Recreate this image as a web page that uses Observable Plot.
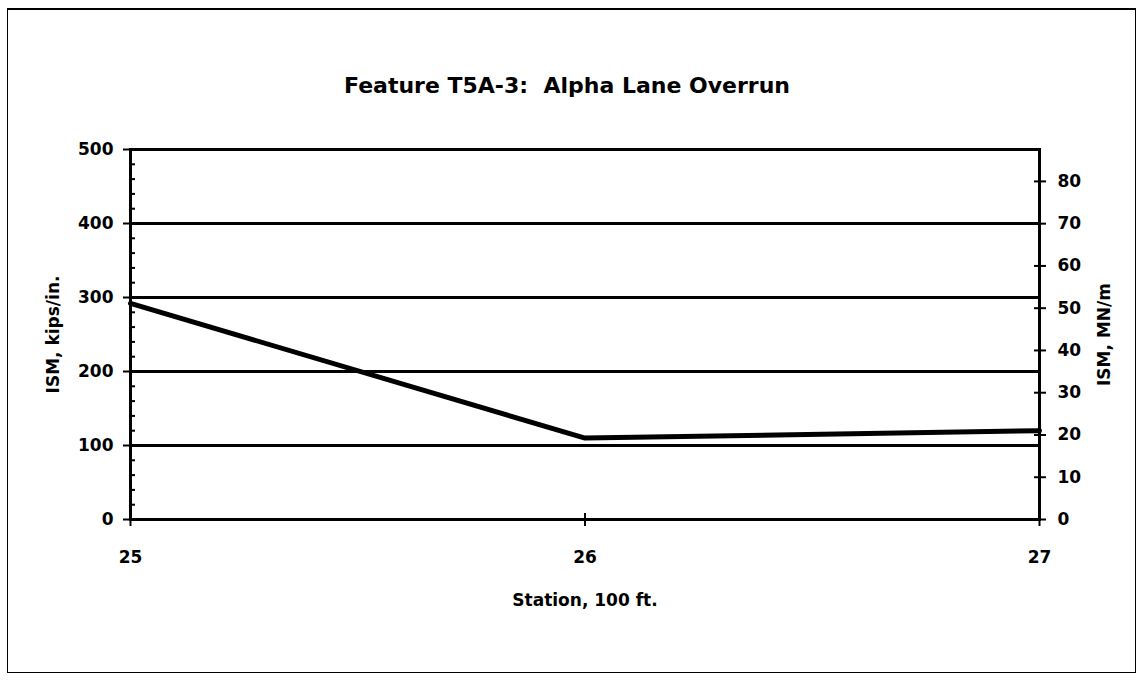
<!DOCTYPE html>
<html>
<head>
<meta charset="utf-8">
<script src="https://cdn.jsdelivr.net/npm/d3@7"></script>
<script src="https://cdn.jsdelivr.net/npm/@observablehq/plot@0.6"></script>
<style>
  html, body { margin: 0; padding: 0; background: #fff; }
  #wrap { position: relative; width: 1143px; height: 681px; overflow: hidden; }
  #border { position: absolute; left: 7px; top: 8px; width: 1127px; height: 662px; border: 1.5px solid #000; border-top-width: 2.5px; pointer-events: none; }
  svg { font-family: "DejaVu Sans", sans-serif; }
</style>
</head>
<body>
<div id="wrap"><div id="border"></div></div>
<script>
// Data
const titleText = ["Feature T5A-3:  Alpha Lane Overrun"];
const stations = [25, 26, 27];
const ismKips = [292, 110, 120];
const xTicks = [25, 26, 27];
const leftTicks = [0, 100, 200, 300, 400, 500];
const leftMinorTicks = d3.range(0, 501, 20);
const rightTicksMN = [0, 10, 20, 30, 40, 50, 60, 70, 80];
const gridValues = [100, 200, 300, 400];
const kipsToMN = 0.1751;

const rows = stations.map((s, i) => ({station: s, ism: ismKips[i]}));

const chart = Plot.plot({
  width: 1143,
  height: 681,
  marginLeft: 130,
  marginRight: 104,
  marginTop: 149,
  marginBottom: 162,
  style: {fontFamily: "'DejaVu Sans', sans-serif", fontSize: "17px", fontWeight: "bold", color: "#000", background: "transparent"},
  x: {domain: [25, 27]},
  y: {domain: [0, 500]},
  marks: [
    Plot.ruleY(gridValues, {stroke: "#000", strokeWidth: 3}),
    Plot.frame({stroke: "#000", strokeWidth: 3}),
    // left axis minor ticks (inside)
    Plot.axisY({ticks: leftMinorTicks, tickSize: -5, tickFormat: () => "", label: null, strokeWidth: 2}),
    // left axis major ticks + labels
    Plot.axisY({ticks: leftTicks, tickSize: 7, tickPadding: 10, tickFormat: d => d, label: "ISM, kips/in.", labelAnchor: "center", labelOffset: 84, labelArrow: false, strokeWidth: 2, fontSize: 17}),
    // right axis in MN/m
    Plot.axisY({anchor: "right", ticks: rightTicksMN.map(v => v / kipsToMN), tickSize: 6, tickPadding: 12, tickFormat: d => Math.round(d * kipsToMN), label: null, strokeWidth: 2, fontSize: 17}),
    Plot.axisY({anchor: "right", ticks: rightTicksMN.map(v => v / kipsToMN), tickSize: -6, tickFormat: () => "", label: null, strokeWidth: 2}),
    Plot.axisY({anchor: "right", ticks: [], label: "ISM, MN/m", labelAnchor: "center", labelOffset: 70, labelArrow: false, fontSize: 17}),
    // x axis
    Plot.axisX({ticks: xTicks, tickSize: 7, tickPadding: 24, tickFormat: d => d, label: "Station, 100 ft.", labelAnchor: "center", labelOffset: 86, labelArrow: false, strokeWidth: 2, fontSize: 17}),
    Plot.axisX({ticks: xTicks, tickSize: -6, tickFormat: () => "", label: null, strokeWidth: 2}),
    Plot.line(rows, {x: "station", y: "ism", stroke: "#000", strokeWidth: 5}),
    Plot.text(titleText, {frameAnchor: "top", dy: -72, dx: -18, text: d => d, fontSize: 22, fontWeight: "bold", fill: "#000"})
  ]
});
document.getElementById("wrap").prepend(chart);
</script>
</body>
</html>
